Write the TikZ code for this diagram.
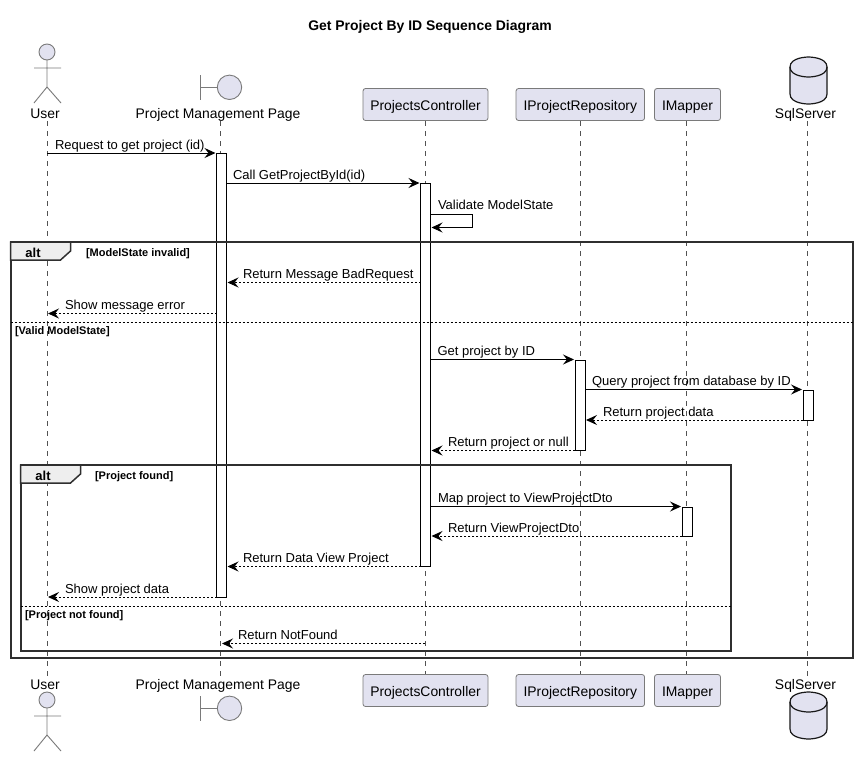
\documentclass[tikz,border=0pt]{standalone}
\usepackage{fontspec}
\setmainfont{Liberation Sans}
\usetikzlibrary{arrows.meta}
\definecolor{partfill}{HTML}{E2E2F0}
\definecolor{partline}{HTML}{7A7A7A}
\definecolor{tabfill}{HTML}{EEEEEE}
\definecolor{ink}{HTML}{181818}
\tikzset{
  txt/.style={inner sep=0pt,outer sep=0pt,anchor=base west,text=black,font=\fontsize{13}{15}\selectfont},
  partlabel/.style={inner sep=0pt,outer sep=0pt,anchor=base,text=black,font=\fontsize{13.9}{16}\selectfont},
  titlelabel/.style={inner sep=0pt,outer sep=0pt,anchor=base,text=black,font=\fontsize{13.95}{16}\selectfont\bfseries},
  guardlabel/.style={inner sep=0pt,outer sep=0pt,anchor=base west,text=black,font=\fontsize{11}{13}\selectfont\bfseries},
  altlabel/.style={inner sep=0pt,outer sep=0pt,anchor=base,text=black,font=\fontsize{13}{15}\selectfont\bfseries},
  partbox/.style={draw=partline,line width=0.8pt,fill=partfill,rounded corners=2.5pt,inner sep=0pt,minimum height=32pt,text height=11pt,text depth=0pt,text=black,font=\fontsize{13.9}{16}\selectfont},
  lifeline/.style={draw=ink!75,line width=0.7pt,dash pattern=on 5pt off 5pt},
  actbar/.style={draw=black,fill=white,line width=1pt,inner sep=0pt,minimum width=10pt},
  frameline/.style={draw=ink!90,line width=2pt},
  sepline/.style={draw=black,line width=0.9pt,dash pattern=on 2pt off 2pt},
  tabshape/.style={draw=ink!90,line width=1.5pt,fill=tabfill},
  iconline/.style={draw=partline,line width=0.9pt},
  iconfill/.style={draw=partline,line width=0.9pt,fill=partfill},
  dbshape/.style={draw=ink,line width=1.2pt,fill=partfill},
  tip/.style={-{Stealth[length=11pt,width=10pt,inset=4pt]}},
  call/.style={tip,draw=black,line width=1pt},
  reply/.style={tip,draw=black,line width=1pt,dash pattern=on 2pt off 2pt},
}
\newcommand{\actoricon}[1]{\begin{scope}[shift={(0,#1)}]
  \draw[iconfill] (47,52) circle (8);
  \draw[iconline] (47,60) -- (47,87) (34,68) -- (61,68) (34,103) -- (47,87) -- (61,103);
\end{scope}}
\newcommand{\boundaryicon}[1]{\begin{scope}[shift={(0,#1)}]
  \draw[iconline] (200.5,75) -- (200.5,99.5) (200.5,87.3) -- (217.3,87.3);
  \draw[iconfill] (229.5,87.3) circle (12.2);
\end{scope}}
\newcommand{\dbicon}[1]{\begin{scope}[shift={(0,#1)}]
  \draw[dbshape] (790,67) .. controls (790,57) and (808.5,57) .. (808.5,57) .. controls (808.5,57) and (827,57) .. (827,67) -- (827,94) .. controls (827,104) and (808.5,104) .. (808.5,104) .. controls (808.5,104) and (790,104) .. (790,94) -- cycle;
  \draw[dbshape,fill=none] (790,67) .. controls (790,77) and (808.5,77) .. (808.5,77) .. controls (808.5,77) and (827,77) .. (827,67);
\end{scope}}
% name, from x, to x, y, style, label x, label
\newcommand{\msg}[7]{%
  \coordinate (#1s) at (#2,#4);
  \coordinate (#1e) at (#3,#4);
  \draw[#5] (#1s) -- (#1e);
  \node[txt] (#1t) at (#6,#4-4) {#7};
}
\newcommand{\actbarnode}[4]{\node[actbar,anchor=north,minimum height=#4pt-#3pt] (#1) at (#2,#3) {};}
\begin{document}
\begin{tikzpicture}[x=1pt,y=-1pt]
\useasboundingbox (0,0) rectangle (858,756);
\fill[white] (0,0) rectangle (858,756);
\node[titlelabel] (title) at (430,30) {Get Project By ID Sequence Diagram};

% lifeline ends
\coordinate (uT) at (47,121);   \coordinate (uB) at (47,678);
\coordinate (pT) at (220.5,121);\coordinate (pB) at (220.5,678);
\coordinate (cT) at (425.5,121);\coordinate (cB) at (425.5,674);
\coordinate (rT) at (580.3,121);\coordinate (rB) at (580.3,674);
\coordinate (mT) at (686.5,121);\coordinate (mB) at (686.5,674);
\coordinate (sT) at (807.5,121);\coordinate (sB) at (807.5,678);
\foreach \a/\b in {uT/uB,pT/pB,cT/cB,rT/rB,mT/mB,sT/sB} \draw[lifeline] (\a) -- (\b);

% participants, top
\actoricon{0}
\boundaryicon{0}
\dbicon{0}
\node[partlabel] (userTop) at (45,118) {User};
\node[partlabel] (pageTop) at (218,118) {Project Management Page};
\node[partlabel] (sqlTop) at (805.5,118) {SqlServer};
\node[partbox,minimum width=125pt] (ctrlTop) at (425.5,104.5) {ProjectsController};
\node[partbox,minimum width=128.5pt] (repoTop) at (580.3,104.5) {IProjectRepository};
\node[partbox,minimum width=66pt] (mapTop) at (687.5,104.5) {IMapper};

% participants, bottom
\actoricon{648}
\boundaryicon{621}
\dbicon{635}
\node[partlabel] (userBot) at (45,689) {User};
\node[partlabel] (pageBot) at (218,689) {Project Management Page};
\node[partlabel] (sqlBot) at (805.5,689) {SqlServer};
\node[partbox,minimum width=125pt] (ctrlBot) at (425.5,690.5) {ProjectsController};
\node[partbox,minimum width=128.5pt] (repoBot) at (580.3,690.5) {IProjectRepository};
\node[partbox,minimum width=66pt] (mapBot) at (687.5,690.5) {IMapper};

% activations
\actbarnode{actPage}{221.5}{153}{597}
\actbarnode{actCtrl}{425.5}{183}{566}
\actbarnode{actRepo}{580}{360}{450}
\actbarnode{actSql}{808}{390}{420}
\actbarnode{actMap}{687.4}{506.5}{536}

% outer frame
\draw[frameline] (10.5,242) rectangle (853,658);
\draw[tabshape] (10.5,242) -- (70.5,242) -- (70.5,251) -- (60.5,260) -- (10.5,260) -- cycle;
\node[altlabel] (altOuter) at (33,257) {alt};
\node[guardlabel] (g1) at (86,256.5) {[ModelState invalid]};
\coordinate (sepAl) at (10.5,322); \coordinate (sepAr) at (853,322);
\draw[sepline] (sepAl) -- (sepAr);
\node[guardlabel] (g2) at (15,334) {[Valid ModelState]};

% inner frame
\draw[frameline] (20.5,465) rectangle (731,651);
\draw[tabshape] (20.5,465) -- (80.5,465) -- (80.5,474) -- (70.5,483) -- (20.5,483) -- cycle;
\node[altlabel] (altInner) at (43,480) {alt};
\node[guardlabel] (g3) at (95,479) {[Project found]};
\coordinate (sepBl) at (20.5,606); \coordinate (sepBr) at (731,606);
\draw[sepline] (sepBl) -- (sepBr);
\node[guardlabel] (g4) at (25,618) {[Project not found]};

% messages
\msg{m1}{47}{215.5}{153}{call}{55}{Request to get project (id)}
\msg{m2}{226.5}{419.5}{183}{call}{233}{Call GetProjectById(id)}
\coordinate (selfA) at (430.5,214.5);
\coordinate (selfB) at (472.5,214.5);
\coordinate (selfC) at (472.5,227.5);
\coordinate (selfD) at (431.5,227.5);
\draw[call] (selfA) -- (selfB) -- (selfC) -- (selfD);
\node[txt] (m3t) at (438,209) {Validate ModelState};
\msg{m4}{420.5}{227.5}{282.5}{reply}{243}{Return Message BadRequest}
\msg{m5}{216.5}{48}{313.5}{reply}{65}{Show message error}
\msg{m6}{430.5}{574}{359.5}{call}{437.5}{Get project by ID}
\msg{m7}{585}{802}{389.5}{call}{592}{Query project from database by ID}
\msg{m8}{803}{586}{420}{reply}{603}{Return project data}
\msg{m9}{575}{431.5}{450.5}{reply}{448}{Return project or null}
\msg{m10}{430.5}{681}{506.5}{call}{438}{Map project to ViewProjectDto}
\msg{m11}{682.4}{431.5}{536}{reply}{448}{Return ViewProjectDto}
\msg{m12}{420.5}{227.5}{566.5}{reply}{243}{Return Data View Project}
\msg{m13}{216.5}{48}{597}{reply}{65}{Show project data}
\msg{m14}{425}{222}{643.5}{reply}{238}{Return NotFound}
\end{tikzpicture}
\end{document}
